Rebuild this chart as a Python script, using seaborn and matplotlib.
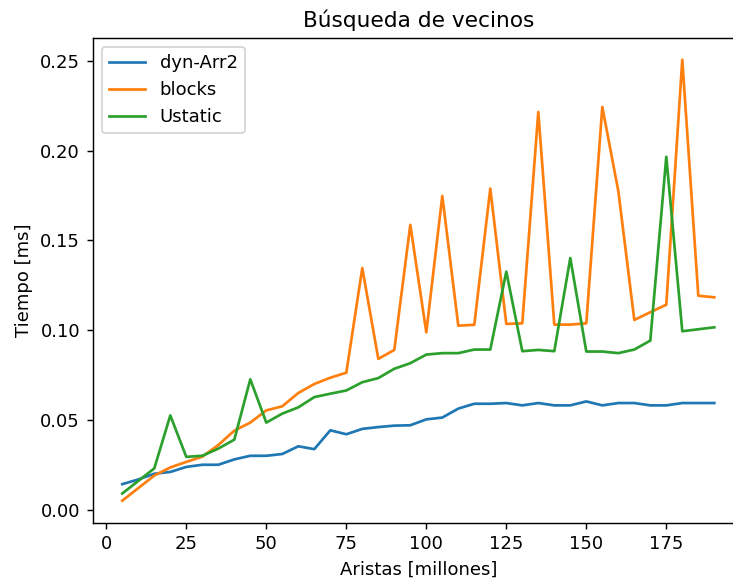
import matplotlib
matplotlib.use("Agg")
import matplotlib.pyplot as plt
import seaborn as sns
import pandas as pd

aristas = list(range(5, 195, 5))

dyn_arr2 = [0.0142, 0.0168, 0.020, 0.021, 0.0238, 0.025, 0.025, 0.028, 0.030, 0.030,
            0.031, 0.0353, 0.0337, 0.0442, 0.042, 0.045, 0.046, 0.0468, 0.047, 0.0503,
            0.0513, 0.0563, 0.059, 0.059, 0.0594, 0.0581, 0.0594, 0.0581, 0.0581, 0.0603,
            0.0581, 0.0594, 0.0594, 0.0581, 0.0581, 0.0594, 0.0594, 0.0594]

blocks = [0.005, 0.012, 0.019, 0.0235, 0.0266, 0.0295, 0.036, 0.044, 0.0485, 0.0553,
          0.0576, 0.065, 0.070, 0.0735, 0.0763, 0.1346, 0.084, 0.089, 0.1587, 0.0988,
          0.1748, 0.1025, 0.103, 0.1789, 0.1035, 0.1038, 0.2216, 0.1031, 0.1031, 0.1038,
          0.2244, 0.1776, 0.1057, 0.110, 0.1142, 0.2507, 0.1192, 0.1183]

ustatic = [0.009, 0.016, 0.023, 0.0525, 0.0294, 0.030, 0.034, 0.039, 0.0726, 0.0485,
           0.0535, 0.057, 0.0627, 0.0646, 0.0664, 0.071, 0.0733, 0.0785, 0.0816, 0.0864,
           0.0872, 0.0872, 0.0892, 0.0892, 0.1326, 0.0883, 0.089, 0.0883, 0.1402, 0.0881,
           0.0881, 0.0872, 0.0892, 0.0942, 0.1966, 0.0994, 0.1005, 0.1016]

series = {"dyn-Arr2": dyn_arr2, "blocks": blocks, "Ustatic": ustatic}
colors = ["#1f77b4", "#ff7f0e", "#2ca02c"]

DPI = 130
fig = plt.figure(figsize=(733 / DPI, 582 / DPI), dpi=DPI)
ax = fig.add_axes([92.7 / 733, (582 - 522.7) / 582, 651.2 / 733, 485 / 582])

for (name, vals), c in zip(series.items(), colors):
    df = pd.DataFrame({"x": aristas, "y": vals})
    sns.lineplot(data=df, x="x", y="y", ax=ax, color=c, label=name, linewidth=1.5)

ax.set_title("Búsqueda de vecinos", fontsize=12)
ax.set_xlabel("Aristas [millones]")
ax.set_ylabel("Tiempo [ms]")
ax.spines["right"].set_visible(False)
ax.legend(loc="upper left")

fig.savefig("out.png", dpi=DPI)
